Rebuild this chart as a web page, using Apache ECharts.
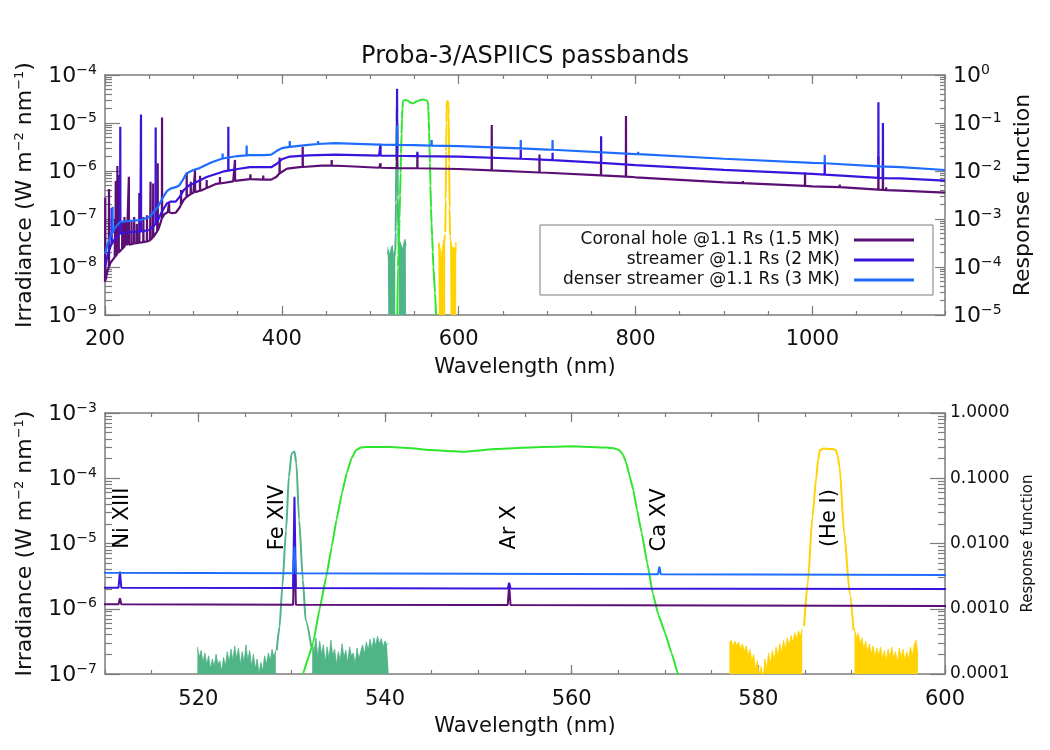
<!DOCTYPE html>
<html>
<head>
<meta charset="utf-8">
<title>Proba-3/ASPIICS passbands</title>
<script src="https://cdn.jsdelivr.net/npm/echarts@6/dist/echarts.min.js"></script>
<style>
  html, body { margin: 0; padding: 0; background: #fff; }
  #chart { width: 1050px; height: 750px; }
</style>
</head>
<body>
<div id="chart"></div>
<script>
// ---- data ----
// continuum samples: [wavelength (nm), irradiance (W m-2 nm-1)]
const holeCont = [
  [200, 4.9e-9], [203, 8.5e-9], [206, 1.2e-8], [211, 1.6e-8], [216, 2.1e-8], [221, 2.6e-8],
  [232, 3.1e-8], [245, 3.3e-8], [251, 3.6e-8], [255, 4.3e-8], [259, 5.5e-8], [263, 8.5e-8],
  [267, 1.25e-7], [271, 1.4e-7], [276, 1.32e-7], [280, 1.35e-7], [285, 1.8e-7], [289, 2.5e-7],
  [294, 3.1e-7], [300, 3.5e-7], [310, 4.0e-7], [326, 5.4e-7], [345, 6.1e-7], [364, 6.8e-7],
  [380, 6.6e-7], [388, 6.6e-7], [394, 7.6e-7], [399, 9.6e-7], [406, 1.12e-6], [420, 1.2e-6],
  [445, 1.3e-6], [470, 1.27e-6], [510, 1.17e-6], [550, 1.14e-6], [600, 1.1e-6], [700, 9.2e-7],
  [800, 7.4e-7], [900, 5.8e-7], [1000, 4.8e-7], [1100, 3.9e-7], [1150, 3.55e-7]
];
const streamerCont = [
  [200, 1.0e-8], [203, 1.8e-8], [206, 2.6e-8], [211, 3.8e-8], [217, 5.0e-8], [225, 5.3e-8],
  [240, 5.5e-8], [250, 5.9e-8], [255, 7.0e-8], [260, 9.5e-8], [265, 1.5e-7], [270, 2.1e-7],
  [274, 2.3e-7], [280, 2.3e-7], [285, 3.0e-7], [289, 4.0e-7], [295, 5.0e-7], [300, 5.5e-7],
  [315, 7.5e-7], [334, 9.8e-7], [350, 1.1e-6], [364, 1.2e-6], [380, 1.2e-6], [388, 1.2e-6],
  [394, 1.4e-6], [400, 1.75e-6], [409, 2.0e-6], [430, 2.12e-6], [460, 2.2e-6], [510, 2.1e-6],
  [550, 2.05e-6], [600, 2.0e-6], [700, 1.7e-6], [800, 1.32e-6], [900, 1.06e-6], [1000, 8.7e-7],
  [1100, 7.0e-7], [1150, 6.3e-7]
];
const denseCont = [
  [200, 1.9e-8], [203, 3.0e-8], [206, 4.3e-8], [211, 6.5e-8], [217, 8.7e-8], [230, 9.2e-8],
  [240, 9.5e-8], [250, 1.1e-7], [255, 1.4e-7], [260, 1.8e-7], [265, 2.7e-7], [270, 3.8e-7],
  [274, 4.3e-7], [280, 4.6e-7], [284, 5.0e-7], [288, 6.5e-7], [292, 8.9e-7], [300, 1.05e-6],
  [307, 1.15e-6], [320, 1.5e-6], [334, 1.85e-6], [350, 2.05e-6], [364, 2.15e-6], [380, 2.15e-6],
  [388, 2.2e-6], [394, 2.6e-6], [400, 3.0e-6], [410, 3.2e-6], [430, 3.5e-6], [460, 3.8e-6],
  [510, 3.55e-6], [550, 3.45e-6], [600, 3.3e-6], [700, 2.8e-6], [800, 2.25e-6], [900, 1.8e-6],
  [1000, 1.48e-6], [1100, 1.2e-6], [1150, 1.05e-6]
];

// emission lines: [wavelength, continuum under the line, line peak]
const holeLines = [
  [200.3, 5.2e-9, 2.8e-7], [204.5, 1.0e-8, 4.2e-7], [211.5, 1.6e-8, 1.0e-7], [212.2, 1.7e-8, 6.2e-7],
  [214.0, 1.9e-8, 1.27e-6], [215.5, 2.0e-8, 8.3e-7], [219.5, 2.4e-8, 9e-8], [222.0, 2.65e-8, 1.1e-7],
  [224.5, 2.8e-8, 9e-8], [227.0, 2.9e-8, 7.6e-7], [230.0, 3.0e-8, 9e-8], [233.0, 3.1e-8, 1.1e-7],
  [236.0, 3.15e-8, 8e-8], [238.8, 3.2e-8, 3.5e-7], [243.4, 3.3e-8, 1.1e-7], [247.5, 3.4e-8, 1.2e-7],
  [251.5, 3.7e-8, 6e-7], [254.5, 4.2e-8, 5.5e-7], [259.6, 5.7e-8, 1.45e-6], [264.5, 1.05e-7, 1.3e-5],
  [272.5, 1.38e-7, 2.2e-7], [286.0, 2.0e-7, 4e-7], [292.4, 2.9e-7, 9e-7], [297.0, 3.3e-7, 6e-7],
  [301.8, 3.6e-7, 1.05e-6], [307.5, 3.9e-7, 8e-7], [315.0, 4.4e-7, 6.5e-7], [330.0, 5.5e-7, 7.5e-7],
  [347.0, 6.2e-7, 1.7e-6], [364.5, 6.8e-7, 8.5e-7], [379.0, 6.6e-7, 8e-7], [397.5, 9.0e-7, 1.9e-6],
  [423.6, 1.21e-6, 3.2e-6], [456.4, 1.3e-6, 1.7e-6], [511.6, 1.17e-6, 1.45e-6], [530.3, 1.15e-6, 1.0e-5],
  [553.3, 1.14e-6, 2.3e-6], [637.4, 1.03e-6, 9.1e-6], [691.4, 9.3e-7, 2.2e-6], [761.0, 8.1e-7, 1.5e-6],
  [789.2, 7.6e-7, 1.4e-5], [921.5, 5.6e-7, 6.2e-7], [991.7, 4.9e-7, 9.3e-7], [1031.0, 4.6e-7, 5.2e-7],
  [1074.7, 4.1e-7, 2.0e-6], [1079.8, 4.05e-7, 1.5e-6], [1083.5, 4.0e-7, 4.6e-7]
];
const streamerLines = [
  [207.5, 3.0e-8, 1.7e-7], [217.3, 5.0e-8, 8.4e-6], [240.7, 5.5e-8, 1.5e-5], [257.3, 8.0e-8, 8.1e-6],
  [339.5, 1.02e-6, 8.4e-6], [511.6, 2.1e-6, 3.7e-6], [530.3, 2.08e-6, 5.2e-5], [553.3, 2.05e-6, 2.5e-6],
  [670.2, 1.8e-6, 2.8e-6], [706.2, 1.68e-6, 2.4e-6], [761.1, 1.47e-6, 5.3e-6], [1014.0, 8.4e-7, 1.45e-6],
  [1074.7, 7.2e-7, 2.7e-5], [1079.8, 7.1e-7, 1.0e-5]
];
const denseLines = [
  [208.6, 5.2e-8, 1.8e-7], [333.0, 1.82e-6, 2.3e-6], [360.2, 2.12e-6, 3.4e-6], [409.0, 3.18e-6, 4.2e-6],
  [441.0, 3.65e-6, 4.2e-6], [530.3, 3.5e-6, 9.0e-6], [569.4, 3.37e-6, 4.4e-6], [670.2, 2.95e-6, 4.4e-6],
  [706.2, 2.77e-6, 4.4e-6], [803.0, 2.24e-6, 2.5e-6], [1014.0, 1.45e-6, 2.15e-6], [1074.7, 1.25e-6, 1.4e-6]
];

// passband response functions: [wavelength, response]
const greenBand = [
  [530.6, 1e-5], [531.2, 1e-4], [531.8, 1.8e-4], [532.3, 3.0e-4], [533.0, 1.0e-3], [533.7, 3.1e-3],
  [534.3, 9e-3], [534.8, 0.023], [535.4, 0.06], [535.9, 0.12], [536.4, 0.2], [536.9, 0.27],
  [537.4, 0.295], [538.0, 0.30], [540.5, 0.30], [542.5, 0.29], [544.8, 0.27], [548.4, 0.255],
  [551.9, 0.28], [556.6, 0.30], [560.1, 0.31], [563.7, 0.295], [564.6, 0.285], [565.1, 0.27],
  [565.5, 0.23], [565.8, 0.18], [566.2, 0.11], [566.6, 0.066], [567.0, 0.033], [567.5, 0.0145],
  [568.1, 5e-3], [568.7, 1.7e-3], [569.3, 8e-4], [570.0, 4.3e-4], [570.7, 2.1e-4], [571.4, 1.0e-4],
  [573.2, 2.9e-5], [574.5, 1e-5]
];
const tealPeak = [
  [528.4, 2.3e-4], [528.7, 5.3e-4], [529.0, 2.2e-3], [529.4, 0.016], [529.7, 0.105], [530.0, 0.24],
  [530.3, 0.256], [530.5, 0.17], [530.8, 0.023], [531.2, 2.8e-3], [531.5, 6.7e-4], [532.1, 2.6e-4]
];
const tealNoiseLeft = [
  [519.9, 2.6e-4], [520.1, 1.8e-4], [520.3, 2.3e-4], [520.5, 1.5e-4], [520.7, 2.1e-4], [520.9, 1.4e-4],
  [521.1, 1.9e-4], [521.3, 1.2e-4], [521.5, 1.7e-4], [521.7, 1.3e-4], [521.9, 2.0e-4], [522.1, 1.4e-4],
  [522.3, 1.6e-4], [522.5, 1.1e-4], [522.7, 1.8e-4], [522.9, 1.3e-4], [523.1, 2.2e-4], [523.3, 1.5e-4],
  [523.5, 2.4e-4], [523.7, 1.6e-4], [523.9, 2.7e-4], [524.1, 1.7e-4], [524.3, 2.5e-4], [524.5, 1.4e-4],
  [524.7, 2.2e-4], [524.9, 1.5e-4], [525.1, 2.8e-4], [525.3, 1.6e-4], [525.5, 2.3e-4], [525.7, 1.3e-4],
  [525.9, 2.0e-4], [526.1, 1.2e-4], [526.3, 1.7e-4], [526.5, 1.0e-4], [526.7, 1.5e-4], [526.9, 1.1e-4],
  [527.1, 1.9e-4], [527.3, 1.4e-4], [527.5, 2.1e-4], [527.7, 1.6e-4], [527.9, 2.4e-4], [528.1, 1.8e-4],
  [528.3, 2.3e-4]
];
const tealNoiseRight = [
  [532.2, 3.0e-4], [532.4, 2.2e-4], [532.6, 3.6e-4], [532.8, 1.8e-4], [533.0, 3.2e-4], [533.2, 2.0e-4],
  [533.4, 2.8e-4], [533.6, 1.5e-4], [533.8, 2.6e-4], [534.0, 1.7e-4], [534.2, 3.3e-4], [534.4, 1.9e-4],
  [534.6, 2.4e-4], [534.8, 1.4e-4], [535.0, 2.2e-4], [535.2, 1.6e-4], [535.4, 2.9e-4], [535.6, 1.8e-4],
  [535.8, 2.3e-4], [536.0, 1.5e-4], [536.2, 2.6e-4], [536.4, 1.9e-4], [536.6, 2.1e-4], [536.8, 1.4e-4],
  [537.0, 2.5e-4], [537.2, 1.7e-4], [537.4, 2.2e-4], [537.6, 2.8e-4], [537.8, 2.0e-4], [538.0, 3.1e-4],
  [538.2, 2.3e-4], [538.4, 3.4e-4], [538.6, 2.4e-4], [538.8, 3.6e-4], [539.0, 2.7e-4], [539.2, 3.8e-4],
  [539.4, 2.9e-4], [539.6, 3.5e-4], [539.8, 2.6e-4], [540.0, 3.2e-4], [540.2, 2.8e-4], [540.4, 3.0e-4]
];
const yellowPeak = [
  [584.9, 5.4e-4], [585.3, 2.5e-3], [585.8, 0.026], [586.2, 0.1], [586.4, 0.19], [586.6, 0.27],
  [587.0, 0.285], [587.5, 0.28], [588.0, 0.28], [588.3, 0.27], [588.5, 0.22], [588.7, 0.15],
  [589.2, 0.0145], [589.8, 1.7e-3], [590.2, 4.7e-4]
];
const yellowNoiseLeft = [
  [576.9, 3.0e-4], [577.1, 3.3e-4], [577.3, 2.6e-4], [577.5, 3.2e-4], [577.7, 2.7e-4], [577.9, 3.1e-4],
  [578.1, 2.4e-4], [578.3, 2.9e-4], [578.5, 2.2e-4], [578.7, 2.7e-4], [578.9, 1.9e-4], [579.1, 2.4e-4],
  [579.3, 1.6e-4], [579.5, 2.0e-4], [579.7, 1.2e-4], [579.9, 1.6e-4], [580.1, 0.9e-4], [580.3, 1.3e-4],
  [580.5, 0.8e-4], [580.7, 1.7e-4], [580.9, 1.2e-4], [581.1, 2.1e-4], [581.3, 1.4e-4], [581.5, 2.3e-4],
  [581.7, 1.6e-4], [581.9, 2.6e-4], [582.1, 1.9e-4], [582.3, 2.9e-4], [582.5, 2.1e-4], [582.7, 3.3e-4],
  [582.9, 2.4e-4], [583.1, 3.6e-4], [583.3, 2.7e-4], [583.5, 3.9e-4], [583.7, 3.0e-4], [583.9, 4.3e-4],
  [584.1, 3.4e-4], [584.3, 4.6e-4], [584.5, 3.8e-4], [584.7, 5.0e-4]
];
const yellowNoiseRight = [
  [590.3, 5.0e-4], [590.5, 3.6e-4], [590.7, 4.2e-4], [590.9, 2.9e-4], [591.1, 3.6e-4], [591.3, 2.4e-4],
  [591.5, 3.2e-4], [591.7, 2.2e-4], [591.9, 2.9e-4], [592.1, 2.0e-4], [592.3, 2.7e-4], [592.5, 1.8e-4],
  [592.7, 2.5e-4], [592.9, 1.9e-4], [593.1, 2.6e-4], [593.3, 1.7e-4], [593.5, 2.3e-4], [593.7, 1.6e-4],
  [593.9, 2.4e-4], [594.1, 1.8e-4], [594.3, 2.6e-4], [594.5, 1.7e-4], [594.7, 2.2e-4], [594.9, 1.5e-4],
  [595.1, 2.5e-4], [595.3, 1.8e-4], [595.5, 2.4e-4], [595.7, 1.6e-4], [595.9, 2.2e-4], [596.1, 1.7e-4],
  [596.3, 2.6e-4], [596.5, 1.9e-4], [596.7, 2.8e-4], [596.9, 3.3e-4], [597.1, 2.0e-4]
];

// line identifications in the zoomed panel: name, wavelength, irradiance at label centre
const idNames = ['Ni XIII', 'Fe XIV', 'Ar X', 'Ca XV', '(He I)'];
const idWl = [511.9, 528.5, 553.3, 569.4, 587.6];
const idLevel = [2.45e-5, 2.5e-5, 1.76e-5, 2.3e-5, 2.45e-5];

// tick values
const topXTicks = [200, 400, 600, 800, 1000];
const botXTicks = [520, 540, 560, 580, 600];
const topIrrTicks = [1e-9, 1e-8, 1e-7, 1e-6, 1e-5, 1e-4];
const topRespTicks = [1e-5, 1e-4, 1e-3, 1e-2, 1e-1, 1];
const botIrrTicks = [1e-7, 1e-6, 1e-5, 1e-4, 1e-3];
const botRespTicks = [1e-4, 1e-3, 1e-2, 1e-1, 1];

const names = ['Coronal hole @1.1 Rs (1.5 MK)', 'streamer @1.1 Rs (2 MK)', 'denser streamer @1.1 Rs (3 MK)'];
const colors = { hole: '#5b0f74', streamer: '#3a14dc', dense: '#1f6dff', green: '#2ee62e', teal: '#4fb486', yellow: '#ffd200' };
const AXIS = '#7c7c7c';
const TEXT = '#111';
const FONT = 'DejaVu Sans';
const LINE_HALF = 0.15; // nm

// continuum + narrow line profiles
const withLines = (cont, lines) => {
  const pts = cont.slice();
  lines.forEach(([wl, base, peak]) => {
    pts.push([wl - LINE_HALF, base], [wl, peak], [wl + LINE_HALF, base]);
  });
  return pts.sort((a, b) => a[0] - b[0]);
};
const holeData = withLines(holeCont, holeLines);
const streamerData = withLines(streamerCont, streamerLines);
const denseData = withLines(denseCont, denseLines);

// 2..9 x 10^n minor tick values for log axes
const minorLog = (lo, hi) => {
  const out = [];
  for (let e = lo; e < hi; e++) for (let k = 2; k <= 9; k++) out.push(k * Math.pow(10, e));
  return out;
};

const powLabel = (v) => {
  const e = Math.round(Math.log10(v));
  return '{b|10}{s|' + (e < 0 ? '\u2212' + (-e) : String(e)) + '}';
};
const powRich = {
  b: { fontSize: 22, lineHeight: 24, color: TEXT, fontFamily: FONT, verticalAlign: 'bottom' },
  s: { fontSize: 14, lineHeight: 24, color: TEXT, fontFamily: FONT, verticalAlign: 'top' }
};

// bottom + top (mirror) x axes, each with a major and a minor copy
const xAxes = (grid, min, max, majors, minorStep, labelMargin) => {
  const base = { gridIndex: grid, type: 'value', min, max, splitLine: { show: false } };
  const tickStyle = { color: AXIS, width: 1.2 };
  return [
    Object.assign({}, base, {
      position: 'bottom', name: 'Wavelength (nm)', nameLocation: 'middle', nameGap: 42,
      nameTextStyle: { fontSize: 21, color: TEXT, fontFamily: FONT },
      axisLine: { onZero: false, lineStyle: { color: AXIS, width: 1.5 } },
      axisTick: { inside: true, length: 9, customValues: majors, lineStyle: tickStyle },
      axisLabel: { customValues: majors, formatter: v => String(v), fontSize: 21, color: TEXT, fontFamily: FONT, margin: labelMargin }
    }),
    Object.assign({}, base, {
      position: 'bottom', interval: minorStep,
      axisLine: { show: false, onZero: false }, axisLabel: { show: false },
      axisTick: { show: true, inside: true, length: 4, lineStyle: tickStyle }
    }),
    Object.assign({}, base, {
      position: 'top',
      axisLine: { onZero: false, lineStyle: { color: AXIS, width: 1.5 } },
      axisTick: { inside: true, length: 9, customValues: majors, lineStyle: tickStyle },
      axisLabel: { show: false }
    }),
    Object.assign({}, base, {
      position: 'top', interval: minorStep,
      axisLine: { show: false, onZero: false }, axisLabel: { show: false },
      axisTick: { show: true, inside: true, length: 4, lineStyle: tickStyle }
    })
  ];
};

// log y axis with a major copy (line, labels, name) and a minor-tick copy
const logAxes = (grid, position, majors, minors, opts) => {
  const base = {
    gridIndex: grid, type: 'log', position, min: majors[0], max: majors[majors.length - 1],
    splitLine: { show: false }
  };
  const tickStyle = { color: AXIS, width: 1.2 };
  return [
    Object.assign({}, base, {
      name: opts.name, nameLocation: 'middle', nameGap: opts.nameGap, nameRotate: 90,
      nameTextStyle: opts.nameStyle,
      axisLine: { show: true, onZero: false, lineStyle: { color: AXIS, width: 1.5 } },
      axisTick: { inside: true, length: opts.major, customValues: majors, lineStyle: tickStyle },
      axisLabel: Object.assign({ customValues: majors, margin: 8, color: TEXT, fontFamily: FONT }, opts.label)
    }),
    Object.assign({}, base, {
      axisLine: { show: false, onZero: false }, axisLabel: { show: false },
      axisTick: { show: true, inside: true, length: opts.minor, customValues: minors, lineStyle: tickStyle }
    })
  ];
};

const irrName = 'Irradiance (W m{s|\u22122} nm{s|\u22121})';
const irrNameStyle = {
  fontSize: 22, color: TEXT, fontFamily: FONT, lineHeight: 24,
  rich: { s: { fontSize: 13, lineHeight: 24, verticalAlign: 'top', color: TEXT, fontFamily: FONT } }
};

const yAxes = [].concat(
  logAxes(0, 'left', topIrrTicks, minorLog(-9, -4), {
    name: irrName, nameGap: 67, nameStyle: irrNameStyle, major: 15, minor: 7,
    label: { formatter: powLabel, rich: powRich }
  }),
  logAxes(0, 'right', topRespTicks, minorLog(-5, 0), {
    name: 'Response function', nameGap: 58, major: 10, minor: 5,
    nameStyle: { fontSize: 22, color: TEXT, fontFamily: FONT },
    label: { formatter: powLabel, rich: powRich }
  }),
  logAxes(1, 'left', botIrrTicks, minorLog(-7, -3), {
    name: irrName, nameGap: 67, nameStyle: irrNameStyle, major: 15, minor: 7,
    label: { formatter: powLabel, rich: powRich }
  }),
  logAxes(1, 'right', botRespTicks, minorLog(-4, 0), {
    name: 'Response function', nameGap: 66, major: 15, minor: 7,
    nameStyle: { fontSize: 15, color: TEXT, fontFamily: FONT },
    label: { formatter: v => v.toFixed(4), fontSize: 17, margin: 5 }
  })
);

const xAxesAll = [].concat(
  xAxes(0, 200, 1150, topXTicks, 50, 14),
  xAxes(1, 510, 600, botXTicks, 5, 15)
);

const area = (data, color, x, y) => ({
  type: 'line', xAxisIndex: x, yAxisIndex: y, data, symbol: 'none', silent: true,
  lineStyle: { color, width: 0.8 }, areaStyle: { color, opacity: 1, origin: 'start' }
});
const curve = (name, data, color, x, y, width, smooth) => ({
  name, type: 'line', xAxisIndex: x, yAxisIndex: y, data, symbol: 'none', silent: true,
  smooth: smooth || false, smoothMonotone: 'x',
  lineStyle: { color, width }, itemStyle: { color }
});

// one panel's worth of series; x = major x axis, yIrr / yResp = major y axes
const panel = (x, yIrr, yResp, width) => [
  area(tealNoiseLeft, colors.teal, x, yResp),
  area(tealNoiseRight, colors.teal, x, yResp),
  area(yellowNoiseLeft, colors.yellow, x, yResp),
  area(yellowNoiseRight, colors.yellow, x, yResp),
  curve('teal', tealPeak, colors.teal, x, yResp, 2, 0.25),
  curve('yellow', yellowPeak, colors.yellow, x, yResp, 2, 0.25),
  curve('green', greenBand, colors.green, x, yResp, 2, 0.1),
  curve(names[0], holeData, colors.hole, x, yIrr, width),
  curve(names[1], streamerData, colors.streamer, x, yIrr, width),
  curve(names[2], denseData, colors.dense, x, yIrr, width)
];

const series = [].concat(panel(0, 0, 2, 2.2), panel(4, 4, 6, 2), [{
  type: 'scatter', xAxisIndex: 4, yAxisIndex: 4, symbolSize: 1, silent: true,
  itemStyle: { color: 'rgba(0,0,0,0)', opacity: 1 },
  data: idNames.map((n, i) => [idWl[i], idLevel[i], n]),
  label: {
    show: true, position: 'inside', rotate: 90, align: 'center', verticalAlign: 'middle', opacity: 1,
    formatter: p => p.data[2], fontSize: 21, color: '#000', fontFamily: FONT
  }
}]);

const chart = echarts.init(document.getElementById('chart'), null, { renderer: 'canvas' });
chart.setOption({
  animation: false,
  backgroundColor: '#fff',
  textStyle: { fontFamily: FONT },
  title: {
    text: 'Proba-3/ASPIICS passbands', left: 'center', top: 40,
    textStyle: { fontSize: 24, fontWeight: 'normal', color: TEXT, fontFamily: FONT }
  },
  legend: {
    data: names, left: 540, top: 225, orient: 'vertical', align: 'right',
    icon: 'rect', itemWidth: 60, itemHeight: 3, itemGap: 0,
    padding: [5, 19, 5, 23], borderColor: AXIS, borderWidth: 1, selectedMode: false,
    textStyle: { fontSize: 17, color: TEXT, fontFamily: FONT, lineHeight: 20, padding: [0, 9, 0, 0] }
  },
  grid: [
    { left: 105, right: 105, top: 75, height: 240, containLabel: false },
    { left: 105, right: 105, top: 413, height: 261, containLabel: false }
  ],
  xAxis: xAxesAll,
  yAxis: yAxes,
  series
});
window.addEventListener('resize', () => chart.resize());
</script>
</body>
</html>
